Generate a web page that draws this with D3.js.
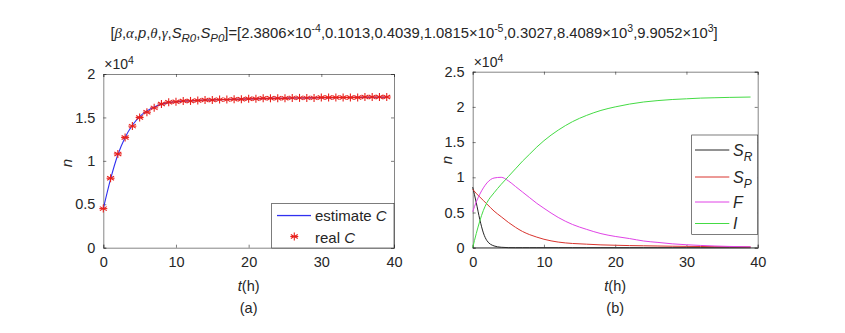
<!DOCTYPE html>
<html><head><meta charset="utf-8">
<script src="https://cdn.jsdelivr.net/npm/d3@7"></script>
<style>body{margin:0;background:#fff}svg{display:block}text{font-family:"Liberation Sans",Arial,sans-serif;fill:#262626}</style>
</head><body><svg id="c" width="845" height="333"></svg>
<script>
// ---- data (values in units of 1e4) ----
const tReal = d3.range(0, 40);
const realC = [0.45,0.80,1.08,1.27,1.40,1.50,1.56,1.61,1.655,1.675,1.68,1.69,1.69,1.695,1.70,1.70,1.705,1.705,1.71,1.71,1.715,1.715,1.72,1.72,1.72,1.72,1.725,1.725,1.725,1.725,1.73,1.73,1.73,1.73,1.73,1.73,1.735,1.735,1.735,1.735];
const estC  = [0.45,0.79,1.07,1.27,1.41,1.51,1.575,1.62,1.65,1.67,1.68,1.688,1.692,1.696,1.70,1.702,1.705,1.707,1.709,1.711,1.713,1.715,1.717,1.719,1.72,1.721,1.723,1.724,1.725,1.726,1.727,1.728,1.729,1.73,1.73,1.731,1.732,1.732,1.733,1.733];
const tSim = [0,0.5,1,1.5,2,3,4,5,6,7,8,9,10,12,14,16,18,20,22,24,26,28,30,32,34,36,39];
const SR = [0.86,0.64,0.40,0.21,0.10,0.025,0.006,0.001,0,0,0,0,0,0,0,0,0,0,0,0,0,0,0,0,0,0,0];
const SP = [0.83,0.77,0.72,0.67,0.62,0.52,0.44,0.36,0.29,0.23,0.185,0.15,0.12,0.08,0.06,0.05,0.04,0.035,0.03,0.027,0.024,0.021,0.019,0.017,0.015,0.013,0.011];
const F  = [0.51,0.65,0.76,0.85,0.92,0.99,1.00,0.95,0.87,0.79,0.71,0.63,0.56,0.43,0.33,0.26,0.20,0.16,0.13,0.095,0.075,0.055,0.042,0.032,0.024,0.018,0.012];
const I  = [0,0.2,0.38,0.53,0.64,0.78,0.90,1.01,1.12,1.23,1.33,1.43,1.52,1.67,1.79,1.88,1.95,2.00,2.04,2.07,2.09,2.105,2.115,2.125,2.13,2.135,2.14];
const xTicks = [0,10,20,30,40];
const yTicksA = [0,0.5,1,1.5,2];
const yTicksB = [0,0.5,1,1.5,2,2.5];

const svg = d3.select("#c");
const AX = "#262626";
const BLUE = "#3030f0";

function panel(x0,x1,y0,y1,ymax,yticks,lbl){
  const x = d3.scaleLinear().domain([0,40]).range([x0,x1]);
  const y = d3.scaleLinear().domain([0,ymax]).range([y0,y1]);
  const g = svg.append("g");
  const fmt = d=>String(d);
  const gb = g.append("g").attr("transform",`translate(0,${y0})`).call(d3.axisBottom(x).tickValues(xTicks).tickSize(-3).tickPadding(9).tickFormat(fmt));
  const gl = g.append("g").attr("transform",`translate(${x0},0)`).call(d3.axisLeft(y).tickValues(yticks).tickSize(-3).tickPadding(8).tickFormat(fmt));
  const gt = g.append("g").attr("transform",`translate(0,${y1})`).call(d3.axisTop(x).tickValues(xTicks).tickSize(-3).tickFormat(""));
  const gr = g.append("g").attr("transform",`translate(${x1},0)`).call(d3.axisRight(y).tickValues(yticks).tickSize(-3).tickFormat(""));
  [gb,gl,gt,gr].forEach(a=>{a.selectAll("path,line").attr("stroke",AX).attr("stroke-width",0.6);a.select(".domain").attr("stroke","#333");a.selectAll("text").attr("font-size",14.5).attr("fill",AX).style("font-family","Liberation Sans, Arial, sans-serif");});
  const e = g.append("text").attr("x",x0+1).attr("y",y1-5).attr("font-size",14);
  e.append("tspan").text("×10");
  e.append("tspan").attr("dy",-5).attr("font-size",10.5).text("4");
  const xl = g.append("text").attr("x",(x0+x1)/2).attr("y",291).attr("text-anchor","middle").attr("font-size",14.5);
  xl.append("tspan").attr("font-style","italic").text("t");
  xl.append("tspan").text("(h)");
  g.append("text").attr("x",(x0+x1)/2).attr("y",313).attr("text-anchor","middle").attr("font-size",14.5).text(lbl);
  return {x,y,g};
}

const A = panel(103.3,394,247.7,74,2,yTicksA,"(a)");
svg.append("text").attr("x",72).attr("y",163).attr("text-anchor","middle").attr("font-size",15).attr("font-style","italic")
  .attr("transform","rotate(-90,72,163)").text("n");
const B = panel(472.7,757.7,247.7,71.7,2.5,yTicksB,"(b)");
svg.append("text").attr("x",452).attr("y",160).attr("text-anchor","middle").attr("font-size",15).attr("font-style","italic")
  .attr("transform","rotate(-90,452,160)").text("n");

// panel a lines
const lineA = d3.line().x((d,i)=>A.x(tReal[i])).y(d=>A.y(d)).curve(d3.curveMonotoneX);
A.g.append("path").datum(estC).attr("d",lineA).attr("fill","none").attr("stroke",BLUE).attr("stroke-width",1.1);
function star(g,cx,cy,r){
  const s=g.append("g").attr("transform",`translate(${cx},${cy})`);
  [0,60,120].forEach(a=>{const rad=a*Math.PI/180;s.append("line").attr("x1",-r*Math.sin(rad)).attr("y1",-r*Math.cos(rad)).attr("x2",r*Math.sin(rad)).attr("y2",r*Math.cos(rad)).attr("stroke","#e8201c").attr("stroke-width",1.1);});
  s.append("line").attr("x1",-r).attr("x2",r).attr("y1",0).attr("y2",0).attr("stroke","#e8201c").attr("stroke-width",1.1);
}
realC.forEach((v,i)=>star(A.g,A.x(tReal[i]),A.y(v),4));

// legend a
const la = svg.append("g");
la.append("rect").attr("x",271.7).attr("y",203.3).attr("width",394-271.7).attr("height",248-203.3).attr("fill","#fff").attr("stroke",AX).attr("stroke-width",0.6);
la.append("rect").attr("x",277).attr("y",214.9).attr("width",34).attr("height",1.3).attr("fill",BLUE);
const t1 = la.append("text").attr("x",315).attr("y",221).attr("font-size",15);
t1.append("tspan").text("estimate ");t1.append("tspan").attr("font-style","italic").text("C");
star(la,294.3,236.5,4);
const t2 = la.append("text").attr("x",315).attr("y",242.5).attr("font-size",15);
t2.append("tspan").text("real ");t2.append("tspan").attr("font-style","italic").text("C");

// panel b lines
const series = [{v:SR,c:"#262626",n:"S",s:"R"},{v:SP,c:"#d9342e",n:"S",s:"P"},{v:F,c:"#e043e6",n:"F",s:""},{v:I,c:"#44db44",n:"I",s:""}];
const lineB = d3.line().x((d,i)=>B.x(tSim[i])).y(d=>B.y(d)).curve(d3.curveMonotoneX);
series.forEach(s=>B.g.append("path").datum(s.v).attr("d",lineB).attr("fill","none").attr("stroke",s.c).attr("stroke-width",1));
B.g.append("line").attr("x1",472.7).attr("x2",757.7).attr("y1",247.7).attr("y2",247.7).attr("stroke","#333").attr("stroke-width",0.6);

const lb = svg.append("g");
lb.append("rect").attr("x",691.7).attr("y",135).attr("width",66).attr("height",99.3).attr("fill","#fff").attr("stroke",AX).attr("stroke-width",0.6);
const rows=[150,177,202,223.5];
series.forEach((s,i)=>{
  lb.append("path").attr("d",`M695,${rows[i]}H729.3`).attr("stroke",s.c).attr("stroke-width",1).attr("fill","none");
  const t = lb.append("text").attr("x",733).attr("y",rows[i]+5.5).attr("font-size",16).attr("font-style","italic");
  t.append("tspan").text(s.n);
  if(s.s) t.append("tspan").attr("dy",5).attr("font-size",12).text(s.s);
});

// title
const T = svg.append("text").attr("x",414).attr("y",38).attr("text-anchor","middle").attr("font-size",14.8);
function ts(txt,opt={}){const s=T.append("tspan").text(txt);if(opt.it)s.attr("font-style","italic");if(opt.serif)s.style("font-family","Liberation Serif, serif");if(opt.dy)s.attr("dy",opt.dy);if(opt.fs)s.attr("font-size",opt.fs);return s;}
ts("[");ts("β",{serif:1,it:1});ts(",");ts("α",{serif:1,it:1});ts(",");ts("p",{it:1});ts(",");ts("θ",{serif:1,it:1});ts(",");ts("γ",{serif:1,it:1});ts(",");
ts("S",{it:1});ts("R0",{it:1,dy:4,fs:11.5});ts(",",{dy:-4});ts("S",{it:1});ts("P0",{it:1,dy:4,fs:11.5});ts("]=[2.3806×10",{dy:-4});
ts("-4",{dy:-6,fs:10.5});ts(",0.1013,0.4039,1.0815×10",{dy:6});ts("-5",{dy:-6,fs:10.5});ts(",0.3027,8.4089×10",{dy:6});ts("3",{dy:-6,fs:10.5});ts(",9.9052×10",{dy:6});ts("3",{dy:-6,fs:10.5});ts("]",{dy:6});
</script></body></html>
